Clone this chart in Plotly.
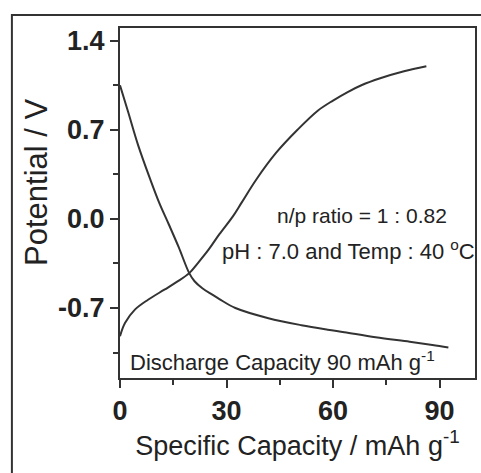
import plotly.graph_objects as go

# ---- data ----
discharge_cap = [0, 2.3, 5.1, 8.4, 11, 13.7, 16.5, 19.5, 21, 23.2, 26, 28, 32.5, 41.8, 51.1, 58.5, 63.2, 72, 81.6, 88, 92.5]
discharge_v = [1.05, 0.84, 0.58, 0.32, 0.13, -0.04, -0.22, -0.426, -0.49, -0.545, -0.595, -0.63, -0.70, -0.78, -0.835, -0.87, -0.89, -0.93, -0.965, -0.99, -1.01]

charge_cap = [0, 1.4, 4.2, 7.9, 12.5, 16, 19.5, 22, 25, 28, 31.8, 34.3, 38.4, 44, 50, 55.7, 60, 64, 68, 73.3, 80, 86.3]
charge_v = [-0.922, -0.818, -0.713, -0.635, -0.556, -0.495, -0.426, -0.345, -0.24, -0.12, 0.02, 0.13, 0.31, 0.52, 0.70, 0.85, 0.93, 0.995, 1.05, 1.105, 1.16, 1.2]

x_tickvals = [0, 30, 60, 90]
x_ticktext = ["0", "30", "60", "90"]
y_tickvals = [1.4, 0.7, 0.0, -0.7]
y_ticktext = ["1.4", "0.7", "0.0", "-0.7"]

FONT = "Liberation Sans, Arial, sans-serif"
LINE = "#333333"
TXT = "#222222"

fig = go.Figure()
fig.add_trace(go.Scatter(x=discharge_cap, y=discharge_v, mode="lines",
                         line=dict(color=LINE, width=2, shape="spline", smoothing=1.0), showlegend=False))
fig.add_trace(go.Scatter(x=charge_cap, y=charge_v, mode="lines",
                         line=dict(color=LINE, width=2, shape="spline", smoothing=1.0), showlegend=False))

fig.update_layout(
    width=481, height=473,
    margin=dict(l=120, r=4, t=28, b=95),
    paper_bgcolor="white", plot_bgcolor="white",
    font=dict(family=FONT, color=TXT),
    xaxis=dict(range=[0, 100], showline=True, linecolor=LINE, linewidth=2, mirror=True,
               showgrid=False, zeroline=False,
               tickmode="array", tickvals=x_tickvals, ticktext=x_ticktext,
               ticks="outside", ticklen=8, tickwidth=2, tickcolor=LINE,
               minor=dict(ticks="outside", ticklen=5, tickwidth=2, tickcolor=LINE, tick0=0, dtick=15),
               tickfont=dict(family=FONT, size=27, color=TXT, weight="bold"),
               title=dict(text="Specific Capacity / mAh g<sup>-1</sup>",
                          font=dict(family=FONT, size=27, color=TXT), standoff=8)),
    yaxis=dict(range=[-1.25, 1.5], showline=True, linecolor=LINE, linewidth=2, mirror=True,
               showgrid=False, zeroline=False,
               tickmode="array", tickvals=y_tickvals, ticktext=y_ticktext,
               ticks="outside", ticklen=8, tickwidth=2, tickcolor=LINE,
               minor=dict(ticks="outside", ticklen=5, tickwidth=2, tickcolor=LINE, tick0=0, dtick=0.35),
               tickfont=dict(family=FONT, size=27, color=TXT, weight="bold")),
    annotations=[
        dict(x=-0.234, y=0.56, xref="paper", yref="paper", text="Potential / V", showarrow=False,
             textangle=-90, xanchor="center", yanchor="middle",
             font=dict(family=FONT, size=31, color=TXT)),
        dict(x=68.2, y=0.03, xref="x", yref="y", text="n/p ratio = 1 : 0.82", showarrow=False,
             xanchor="center", yanchor="middle", font=dict(family=FONT, size=21, color=TXT)),
        dict(x=64.5, y=-0.243, xref="x", yref="y", text="pH : 7.0 and Temp : 40 <sup>o</sup>C", showarrow=False,
             xanchor="center", yanchor="middle", font=dict(family=FONT, size=22, color=TXT)),
        dict(x=45.7, y=-1.12, xref="x", yref="y", text="Discharge Capacity 90 mAh g<sup>-1</sup>", showarrow=False,
             xanchor="center", yanchor="middle", font=dict(family=FONT, size=22, color=TXT)),
    ],
    shapes=[
        dict(type="rect", xref="paper", yref="paper", x0=-0.3045, y0=-0.3, x1=1.03, y1=1.037,
             line=dict(color=LINE, width=2), layer="below"),
    ],
)

fig.write_html("out.html", config={"displayModeBar": False},
               post_script="document.body.style.margin='0';document.body.style.overflow='hidden';")
